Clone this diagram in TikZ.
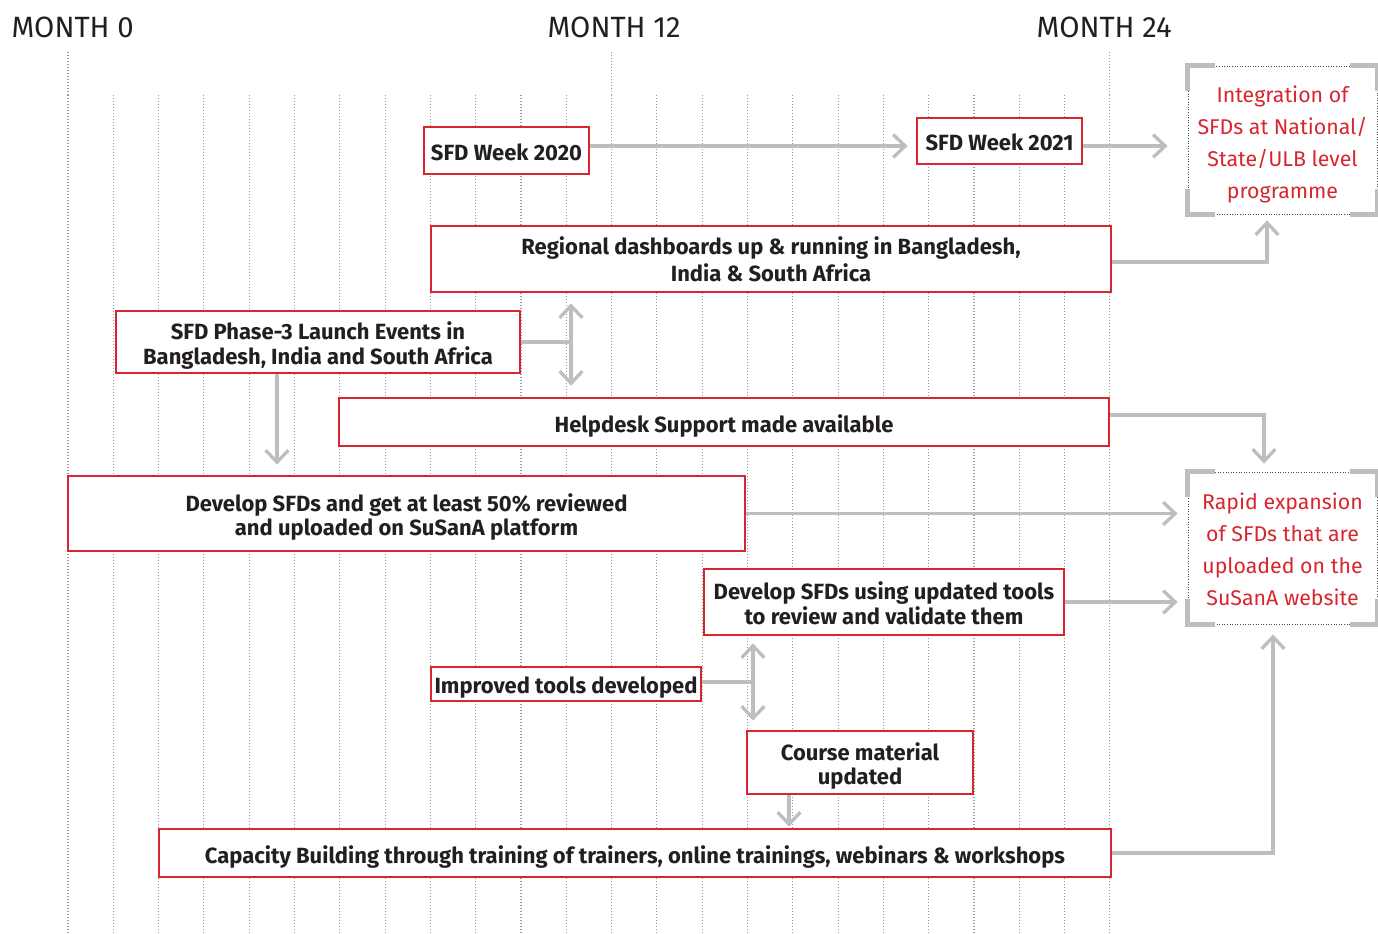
\documentclass[tikz,border=0pt]{standalone}
\usepackage{fontspec}
\setmainfont{Fira Sans}
\usetikzlibrary{arrows.meta,calc}
\definecolor{bred}{HTML}{D7262F}
\definecolor{agray}{HTML}{BCBEC0}
\definecolor{dgray}{HTML}{9A9A9A}
\definecolor{txt}{HTML}{231F20}
\newcommand\btx[2][-3.6pt]{\raisebox{#1}[\height][\depth]{\begin{tabular}{@{}c@{}}#2\end{tabular}}}
\begin{document}
\begin{tikzpicture}[x=0.75pt,y=-0.75pt,
  grid/.style={dgray,line width=0.8pt,dash pattern=on 0.75pt off 1.5pt},
  bx/.style 2 args={draw=bred,line width=2pt,fill=white,inner sep=1pt,text=txt,
     minimum width=#1*0.75pt,minimum height=#2*0.75pt,
     font=\fontsize{16.5}{18}\selectfont\bfseries},
  goal/.style={draw=txt!80,line width=0.6pt,dash pattern=on 0.75pt off 1.2pt,fill=white,
     text=bred,minimum width=189*0.75pt,inner sep=1pt,font=\fontsize{16}{24}\selectfont},
  brk/.style={agray,line width=3.5pt},
  con/.style={agray,line width=2.5pt},
  arr/.style={con,-{Straight Barb[length=9pt,width=17pt]}},
  dbl/.style={con,{Straight Barb[length=9pt,width=17pt]}-{Straight Barb[length=9pt,width=17pt]}},
  hdr/.style={anchor=base west,text=txt,font=\fontsize{22}{26}\selectfont}
]
\useasboundingbox (0,0) rectangle (1378,934);
% grid
\foreach \i in {0,...,23}{
  \draw[grid] ({68+\i*45.3},95) -- ({68+\i*45.3},934);
}
\foreach \i in {0,12,23}{
  \draw[grid] ({68+\i*45.3},52) -- ({68+\i*45.3},95);
}
% headers
\node[hdr] (m0) at (7,38) {MONTH 0};
\node[hdr] (m12) at (543,38) {MONTH 12};
\node[hdr] (m24) at (1032,38) {MONTH 24};

% boxes
\node[bx={165}{47}] (w20) at (506.5,150.5) {\btx{SFD Week 2020}};
\node[bx={165}{46}] (w21) at (999.5,141) {\btx{SFD Week 2021}};
\node[bx={680}{66},font=\fontsize{16.5}{20}\selectfont\bfseries] (reg) at (771,259) {\btx[-2.8pt]{Regional dashboards up \& running in Bangladesh,\\India \& South Africa}};
\node[bx={404}{62}] (ph) at (318,342) {\btx{SFD Phase-3 Launch Events in\\Bangladesh, India and South Africa}};
\node[bx={770}{48}] (help) at (724,422) {\btx{Helpdesk Support made available}};
\node[bx={677}{75}] (dev) at (406.5,513.5) {\btx{Develop SFDs and get at least 50\% reviewed\\and uploaded on SuSanA platform}};
\node[bx={360}{66}] (upd) at (884,602) {\btx{Develop SFDs using updated tools\\to review and validate them}};
\node[bx={270}{34}] (imp) at (566,684) {\btx{Improved tools developed}};
\node[bx={226}{63}] (crs) at (860,762.5) {\btx{Course material\\updated}};
\node[bx={952}{48}] (cap) at (635,853) {\btx{Capacity Building through training of trainers, online trainings, webinars \& workshops}};

% goal boxes
\node[goal,minimum height=148*0.75pt] (A) at (1282.5,140) {\btx[-3pt]{Integration of\\SFDs at National/\\State/ULB level\\programme}};
\node[goal,minimum height=152*0.75pt] (B) at (1282.5,548) {\btx[-2.6pt]{Rapid expansion\\of SFDs that are\\uploaded on the\\SuSanA website}};
\foreach \n in {A,B}{
  \draw[brk] ($(\n.north west)+(0,25)$) -- (\n.north west) -- ++(27,0);
  \draw[brk] ($(\n.north east)+(0,25)$) -- (\n.north east) -- ++(-27,0);
  \draw[brk] ($(\n.south west)+(0,-25)$) -- (\n.south west) -- ++(27,0);
  \draw[brk] ($(\n.south east)+(0,-25)$) -- (\n.south east) -- ++(-27,0);
}

% connectors
\coordinate (r1) at (0,146);
\draw[arr,shorten >=8*0.75pt] (w20.east |- r1) -- (w21.west |- r1);
\draw[arr,shorten >=20*0.75pt] (w21.east |- r1) -- (A.west |- r1);

\coordinate (x1) at (1267,0);
\draw[arr,shorten >=6*0.75pt] (reg.east |- 0,262) -| (x1 |- A.south);

\coordinate (v1) at (571,342);
\draw[con] (ph.east |- v1) -- (v1);
\draw[dbl,shorten <=10*0.75pt,shorten >=11*0.75pt] (v1 |- reg.south) -- (v1 |- help.north);

\coordinate (x2) at (277,0);
\draw[arr,shorten >=10*0.75pt] (x2 |- ph.south) -- (x2 |- dev.north);

\coordinate (x3) at (1264,0);
\draw[arr,shorten >=8*0.75pt] (help.east |- 0,415) -| (x3 |- B.north);

\draw[arr,shorten >=10*0.75pt] (dev.east) -- (dev.east -| B.west);
\draw[arr,shorten >=10*0.75pt] (upd.east) -- (upd.east -| B.west);

\coordinate (v2) at (753,682);
\draw[con] (imp.east |- v2) -- (v2);
\draw[dbl,shorten <=7*0.75pt,shorten >=9*0.75pt] (v2 |- upd.south) -- (v2 |- crs.north);

\coordinate (x4) at (789,0);
\draw[arr,shorten >=1*0.75pt] (x4 |- crs.south) -- (x4 |- cap.north);

\coordinate (x5) at (1273,0);
\draw[arr,shorten >=10*0.75pt] (cap.east) -| (x5 |- B.south);
\end{tikzpicture}
\end{document}
